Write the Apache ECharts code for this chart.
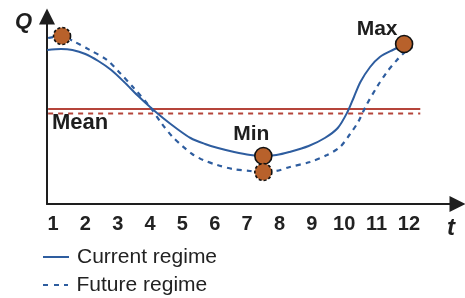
<!DOCTYPE html>
<html><head><meta charset="utf-8">
<script src="https://cdn.jsdelivr.net/npm/echarts@6/dist/echarts.min.js"></script>
<style>html,body{margin:0;padding:0;background:#fff}#c{width:465px;height:298px}</style>
</head><body><div id="c"></div>
<script>
// ---- data ----
const tickLabels = [1, 2, 3, 4, 5, 6, 7, 8, 9, 10, 11, 12];

const tCurrent = [0.82, 1.25, 1.6, 2.0, 2.4, 2.8, 3.2, 3.6, 4.0, 4.4, 4.8, 5.25, 5.7, 6.1, 6.6, 7.1, 7.5, 7.9, 8.3, 8.9, 9.4, 9.8, 10.1, 10.3, 10.5, 10.8, 11.1, 11.5, 11.85];
const qCurrent = [154, 155, 154, 150, 143, 134, 122, 109, 97, 86, 76, 66, 60, 56, 52, 49, 48, 49, 52, 58, 66, 76, 92, 107, 122, 137, 147, 154, 159];

const tFuture = [0.85, 1.28, 1.62, 2.14, 2.67, 3.07, 3.47, 4.0, 4.37, 4.7, 5.0, 5.3, 5.64, 6.07, 6.56, 7.09, 7.5, 7.9, 8.32, 8.94, 9.47, 9.87, 10.18, 10.43, 10.67, 11.01, 11.32, 11.63, 11.88, 12.1];
const qFuture = [166, 168, 163, 154, 144, 131, 117, 97, 80, 67, 58, 50, 44, 39, 35, 33, 32, 33, 37, 42, 49, 57, 70, 82, 98, 117, 132, 144, 152, 157];

const meanCurrent = 95;
const meanFuture = 90.5;
const meanSpanT = [0.85, 12.35];

const currentMarkT = [7.5, 11.85];
const currentMarkQ = [48, 160];
const currentMarkLabels = ['Min', 'Max'];

const futureMarkT = [1.28, 7.5];
const futureMarkQ = [168, 32];

const legendNames = ['Current regime', 'Future regime'];

// ---- chart ----
const FONT = '"Liberation Sans", Arial, Helvetica, sans-serif';
const BLUE = '#2e5d9f';
const RED = '#b5443a';
const DOT = '#b8612b';
const INK = '#1e1e1e';

const zip = (a, b) => a.map((v, i) => [v, b[i]]);

const chart = echarts.init(document.getElementById('c'), null, { renderer: 'canvas' });

const axisLineBase = {
  show: true,
  symbol: ['none', 'triangle'],
  symbolSize: [16, 16],
  lineStyle: { color: INK, width: 2 }
};

const legendText = { fontSize: 21, color: '#222', fontFamily: FONT, lineHeight: 22, padding: [0, 0, 0, 3] };
const solidIcon = 'path://M0,0H26V2H0Z';
const dashIcon = 'path://M0,0H5V2H0Z M11,0H16V2H11Z M21,0H25V2H21Z';

chart.setOption({
  animation: false,
  backgroundColor: '#fff',
  grid: { left: 47, right: 7.5, top: 16.5, bottom: 94, containLabel: false, outerBoundsMode: 'none' },
  xAxis: {
    type: 'value', min: 0.815, max: 13.5,
    axisLine: axisLineBase,
    axisTick: { show: false },
    splitLine: { show: false },
    axisLabel: {
      customValues: tickLabels,
      fontSize: 20, fontWeight: 'bold', color: '#222', fontFamily: FONT, margin: 10
    }
  },
  yAxis: {
    type: 'value', min: 0, max: 187.5,
    axisLine: axisLineBase,
    axisTick: { show: false },
    splitLine: { show: false },
    axisLabel: { show: false }
  },
  legend: [
    {
      data: [{ name: legendNames[0], icon: solidIcon }],
      left: 43, top: 246, padding: 0, itemWidth: 26, itemHeight: 2, itemGap: 0,
      itemStyle: { color: BLUE }, textStyle: legendText, selectedMode: false
    },
    {
      data: [{ name: legendNames[1], icon: dashIcon }],
      left: 43, top: 274, padding: 0, itemWidth: 26, itemHeight: 2, itemGap: 0,
      itemStyle: { color: BLUE }, textStyle: legendText, selectedMode: false
    }
  ],
  graphic: [
    { type: 'text', left: 15, top: 11, style: { text: 'Q', font: 'italic bold 22px ' + FONT, fill: INK } },
    { type: 'text', left: 447, top: 216, style: { text: 't', font: 'italic bold 24px ' + FONT, fill: INK } },
    { type: 'text', left: 52, top: 112, style: { text: 'Mean', font: 'bold 22px ' + FONT, fill: INK } }
  ],
  series: [
    {
      name: 'mean-current', type: 'line', silent: true, symbol: 'none',
      data: meanSpanT.map(t => [t, meanCurrent]),
      lineStyle: { color: RED, width: 2 }, z: 1
    },
    {
      name: 'mean-future', type: 'line', silent: true, symbol: 'none',
      data: meanSpanT.map(t => [t, meanFuture]),
      lineStyle: { color: RED, width: 2, type: [5, 5] }, z: 1
    },
    {
      name: legendNames[0], type: 'line', symbol: 'none', smooth: 0.3,
      data: zip(tCurrent, qCurrent),
      itemStyle: { color: BLUE },
      lineStyle: { color: BLUE, width: 2 }, z: 2
    },
    {
      name: legendNames[1], type: 'line', symbol: 'none', smooth: 0.3,
      data: zip(tFuture, qFuture),
      itemStyle: { color: BLUE },
      lineStyle: { color: BLUE, width: 2.2, type: [5, 5] }, z: 2
    },
    {
      name: 'marks-current', type: 'scatter', symbolSize: 17, z: 3,
      data: zip(currentMarkT, currentMarkQ).map((p, i) => ({
        value: p,
        label: {
          show: true, formatter: currentMarkLabels[i], position: 'top',
          distance: 2, offset: i === 0 ? [-12, 0] : [-27, 7],
          fontSize: 21, fontWeight: 'bold', color: INK, fontFamily: FONT
        }
      })),
      itemStyle: { color: DOT, borderColor: '#111', borderWidth: 1.6, opacity: 1 }
    },
    {
      name: 'marks-future', type: 'scatter', symbolSize: 17, z: 3,
      data: zip(futureMarkT, futureMarkQ),
      itemStyle: { color: DOT, borderColor: '#111', borderWidth: 1.6, borderType: [3, 2], opacity: 1 }
    }
  ]
});
</script>
</body></html>
